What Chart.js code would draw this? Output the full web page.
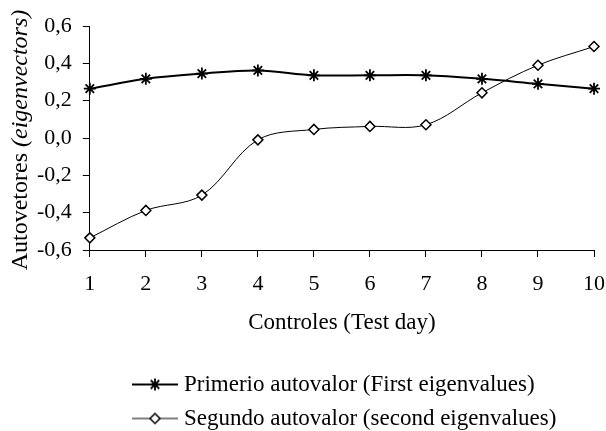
<!DOCTYPE html>
<html>
<head>
<meta charset="utf-8">
<script src="https://cdn.jsdelivr.net/npm/chart.js@4.4.0/dist/chart.umd.min.js"></script>
<style>
  html, body { margin: 0; padding: 0; background: #fff; }
</style>
</head>
<body>
<canvas id="chart1" width="606" height="431"></canvas>
<script>
// -- THE DATA --

const controles = ["1","2","3","4","5","6","7","8","9","10"];

const primeiro_values = [0.264,0.317,0.345,0.362,0.336,0.336,0.336,0.317,0.290,0.264];
const segundo_values = [-0.535,-0.388,-0.306,-0.010,0.046,0.062,0.071,0.242,0.390,0.490];

const y_ticks = [-0.6,-0.4,-0.2,0,0.2,0.4,0.6];
const y_tick_labels = ["-0,6","-0,4","-0,2","0,0","0,2","0,4","0,6"];

const series_names = [
  "Primerio autovalor (First eigenvalues)",
  "Segundo autovalor (second eigenvalues)"
];

// -- STYLE BITS --

const serif = "'Liberation Serif', 'Times New Roman', serif";

// legend sample: a short line with the marker in the middle
function legendSample(style, radius, lineW, markW) {
  const c = document.createElement('canvas');
  c.width = 46; c.height = 14;
  const g = c.getContext('2d');
  g.strokeStyle = '#000';
  g.lineWidth = lineW;
  g.beginPath(); g.moveTo(0, 7); g.lineTo(46, 7); g.stroke();
  g.fillStyle = '#fff';
  g.lineWidth = markW;
  Chart.helpers.drawPoint(g, {pointStyle: style, radius: radius, borderWidth: markW, rotation: 0}, 23, 7);
  return c;
}

const samples = [
  legendSample('star', 6, 2, 1.8),
  legendSample('rectRot', 5, 1, 1.5)
];

// y title has a roman and an italic part, so draw it by hand
const yTitle = {
  id: 'yTitle',
  afterDraw(chart) {
    const ctx = chart.ctx, area = chart.chartArea;
    const p1 = 'Autovetores ', p2 = '(eigenvectors)';
    const size = 24;
    ctx.save();
    ctx.fillStyle = '#000';
    ctx.font = size + 'px ' + serif;
    const w1 = ctx.measureText(p1).width;
    ctx.font = 'italic ' + size + 'px ' + serif;
    const w2 = ctx.measureText(p2).width;
    ctx.translate(27, (area.top + area.bottom) / 2 + 2);
    ctx.rotate(-Math.PI / 2);
    ctx.textBaseline = 'alphabetic';
    ctx.font = size + 'px ' + serif;
    ctx.fillText(p1, -(w1 + w2) / 2, 0);
    ctx.font = 'italic ' + size + 'px ' + serif;
    ctx.fillText(p2, -(w1 + w2) / 2 + w1, 0);
    ctx.restore();
  }
};

// legend rows are left aligned under the plot, not centred
const legendPlace = {
  id: 'legendPlace',
  beforeDraw(chart) {
    const lg = chart.legend;
    lg.left = 126.5; lg.right = 126.5 + 606;
    lg.top = 362; lg.bottom = 362 + lg.height;
  }
};

// -- THE DATA OBJ --

const chart1_data_obj = {
  labels: controles,
  datasets: [{
    label: series_names[0],
    data: primeiro_values,
    borderColor: '#000',
    backgroundColor: '#000',
    borderWidth: 2,
    tension: 0.35,
    pointStyle: 'star',
    pointRadius: 6,
    pointBorderWidth: 1.8,
    pointBorderColor: '#000'
  }, {
    label: series_names[1],
    data: segundo_values,
    borderColor: '#000',
    backgroundColor: '#fff',
    borderWidth: 1,
    tension: 0.35,
    pointStyle: 'rectRot',
    pointRadius: 5,
    pointBorderWidth: 1.5,
    pointBorderColor: '#000',
    pointBackgroundColor: '#fff'
  }]
};

// -- THE CHART --

const chart1_chart_obj = {
  type: 'line',
  data: chart1_data_obj,
  plugins: [yTitle, legendPlace],
  options: {
    responsive: false,
    animation: false,
    layout: { padding: { top: 26, right: 12, left: 26, bottom: 0 } },
    scales: {
      x: {
        grid: { drawOnChartArea: false, drawTicks: true, tickLength: 7, color: '#000' },
        border: { display: true, color: '#000', width: 1 },
        ticks: {
          color: '#000', padding: 1, maxRotation: 0,
          font: { family: serif, size: 22, lineHeight: 2.4 }
        },
        title: {
          display: true, text: 'Controles (Test day)', color: '#000',
          font: { family: serif, size: 23 }, padding: { top: -2.6, bottom: 16.2 }
        }
      },
      y: {
        min: -0.6, max: 0.6,
        grid: { drawOnChartArea: false, drawTicks: true, tickLength: 7, color: '#000' },
        border: { display: true, color: '#000', width: 1 },
        ticks: {
          stepSize: 0.2, color: '#000', padding: 11,
          font: { family: serif, size: 22 },
          callback: function(v) {
            const i = y_ticks.findIndex(t => Math.abs(t - v) < 1e-6);
            return i >= 0 ? y_tick_labels[i] : '';
          }
        }
      }
    },
    plugins: {
      tooltip: { enabled: false },
      legend: {
        position: 'bottom',
        align: 'start',
        labels: {
          color: '#000',
          font: { family: serif, size: 23 },
          usePointStyle: true,
          pointStyleWidth: 35,
          padding: 11,
          generateLabels: function(chart) {
            const items = Chart.defaults.plugins.legend.labels.generateLabels(chart);
            items.forEach((it, i) => { it.pointStyle = samples[i]; });
            return items;
          }
        }
      }
    }
  }
};

new Chart('chart1', chart1_chart_obj);
</script>
</body>
</html>
